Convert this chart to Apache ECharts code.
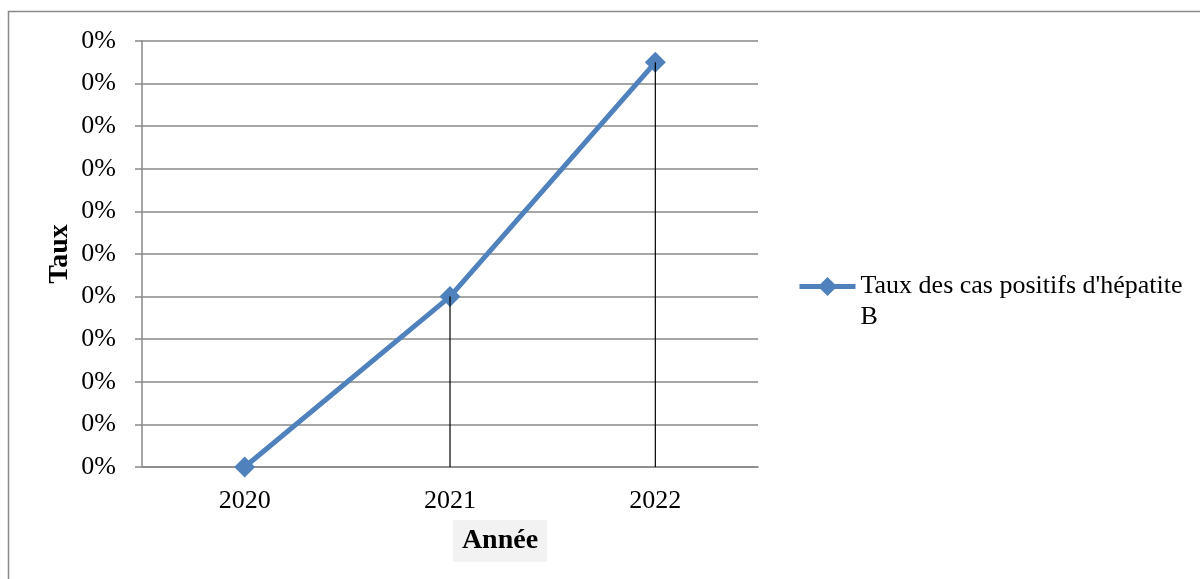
<!DOCTYPE html>
<html>
<head>
<meta charset="utf-8">
<script src="https://cdn.jsdelivr.net/npm/echarts@6/dist/echarts.min.js"></script>
<style>
html,body{margin:0;padding:0;background:#fff;}
#chart{width:1200px;height:579px;}
</style>
</head>
<body>
<div id="chart"></div>
<script>
const categories = ['2020', '2021', '2022'];
const seriesName = "Taux des cas positifs d'hépatite B";
const values = [0, 0.0016, 0.0038];
const yMin = 0, yMax = 0.004, yInterval = 0.0004;
const xTitle = 'Année';
const yTitle = 'Taux';

const FONT = '"Liberation Serif", "Times New Roman", serif';
const chart = echarts.init(document.getElementById('chart'));
chart.setOption({
  animation: false,
  backgroundColor: '#fff',
  textStyle: { fontFamily: FONT },
  graphic: [{
    type: 'rect',
    shape: { x: 8.5, y: 11.5, width: 1300, height: 700 },
    style: { fill: 'none', stroke: '#888', lineWidth: 1.5 },
    silent: true, z: -1
  }],
  grid: { left: 142, right: 442, top: 41, bottom: 112, containLabel: false },
  legend: {
    data: [seriesName],
    left: 797, top: 240,
    padding: 0,
    orient: 'vertical',
    itemWidth: 56, itemHeight: 24,
    lineStyle: { width: 5 },
    formatter: n => '\u00a0\n' + n.replace(' B', '\nB'),
    textStyle: { fontFamily: FONT, fontSize: 26, color: '#000', lineHeight: 31 }
  },
  xAxis: {
    type: 'category',
    data: categories,
    boundaryGap: true,
    name: '{g|}{t|' + xTitle + '}',
    nameLocation: 'middle',
    nameGap: 53,
    nameMoveOverlap: false,
    nameTextStyle: {
      rich: {
        g: { width: 100 },
        t: { fontFamily: FONT, fontSize: 28, fontWeight: 'bold', color: '#000', backgroundColor: '#f2f2f2', padding: [7, 9, 7, 9] }
      }
    },
    axisLine: { show: true, lineStyle: { color: '#888', width: 1.5 } },
    axisTick: { show: false },
    axisLabel: { fontFamily: FONT, fontSize: 26, color: '#000', margin: 21 },
    splitLine: { show: false }
  },
  yAxis: {
    type: 'value',
    min: yMin, max: yMax, interval: yInterval,
    name: yTitle,
    nameLocation: 'middle',
    nameRotate: 90,
    nameGap: 68,
    nameMoveOverlap: false,
    nameTextStyle: { fontFamily: FONT, fontSize: 28, fontWeight: 'bold', color: '#000' },
    axisLine: { show: true, lineStyle: { color: '#888', width: 1.5 } },
    axisTick: { show: true, inside: false, length: 7, lineStyle: { color: '#888', width: 1.5 } },
    axisLabel: { fontFamily: FONT, fontSize: 26, color: '#000', margin: 26, formatter: v => Math.round(v * 100) + '%' },
    splitLine: { show: true, lineStyle: { color: '#888', width: 1.5 } }
  },
  series: [
    {
      name: seriesName,
      type: 'line',
      data: values,
      symbol: 'diamond',
      symbolSize: 21,
      lineStyle: { color: '#4F81BD', width: 5 },
      itemStyle: { color: '#4F81BD' },
      z: 2
    },
    {
      name: 'drop',
      type: 'bar',
      data: values,
      barWidth: 1.2,
      itemStyle: { color: '#000' },
      z: 3,
      silent: true
    }
  ]
});
</script>
</body>
</html>
